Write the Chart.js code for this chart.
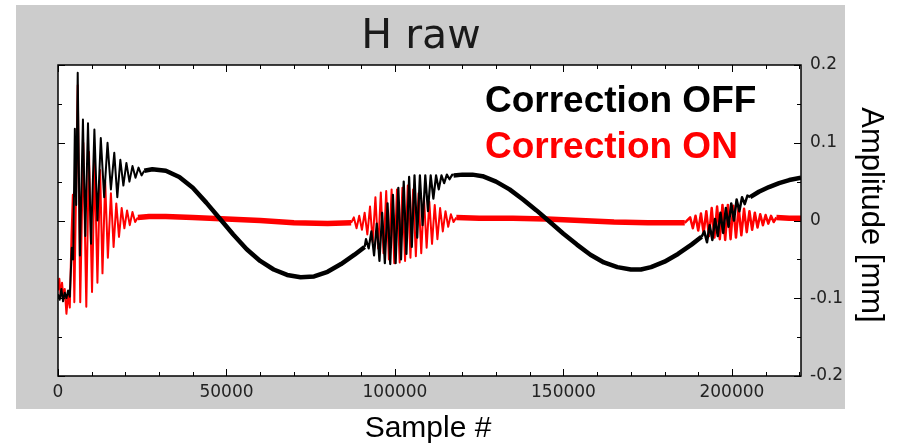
<!DOCTYPE html>
<html>
<head>
<meta charset="utf-8">
<script src="https://cdn.jsdelivr.net/npm/chart.js@4/dist/chart.umd.min.js"></script>
<style>
  html, body { margin: 0; padding: 0; background: #fff; }
</style>
</head>
<body>
<canvas id="c" width="898" height="445"></canvas>
<script>
// tick labels
const xTicks = [0, 50000, 100000, 150000, 200000];
const yTicks = [-0.2, -0.1, 0, 0.1, 0.2];

// Correction OFF (black) - start transient
const offHeadS = [0, 500, 1000, 1500, 2000, 2500, 3000, 3500, 4100, 4500, 5000, 5400, 5850, 6500, 7400, 8100, 8900, 9800, 10800, 11700, 12700, 13700, 14700, 15700, 16700, 17600, 18500, 19400, 20300, 21200, 22100, 23000, 23900, 24800, 25600];
const offHeadV = [-0.095, -0.102, -0.088, -0.104, -0.093, -0.1, -0.09, -0.098, -0.035, -0.05, 0.118, 0.02, 0.19, -0.045, 0.13, -0.02, 0.125, -0.03, 0.117, 0.0, 0.106, 0.03, 0.1, 0.04, 0.087, 0.03, 0.078, 0.045, 0.074, 0.05, 0.07, 0.055, 0.068, 0.058, 0.064];
// smooth parts
const offTrendAS = [25600, 28000, 32000, 36000, 40000, 44000, 48500, 52000, 56000, 60000, 64000, 68000, 72000, 76000, 80000, 84000, 88000, 91000];
const offTrendAV = [0.064, 0.066, 0.064, 0.056, 0.042, 0.023, 0.0, -0.018, -0.037, -0.052, -0.063, -0.07, -0.073, -0.072, -0.066, -0.056, -0.044, -0.034];
const offMidS = [91000, 91400, 92200, 93000, 93800, 94600, 95400, 96200, 97000, 97800, 98600, 99400, 100200, 101000, 101800, 102600, 103400, 104200, 105000, 105800, 106600, 107400, 108200, 109000, 109800, 110600, 111400, 112200, 113000, 113800, 114600, 115400, 116200, 117000, 117400];
const offMidV = [-0.034, -0.024, -0.036, -0.014, -0.045, -0.004, -0.052, 0.01, -0.055, 0.022, -0.056, 0.033, -0.055, 0.042, -0.05, 0.05, -0.043, 0.056, -0.034, 0.058, -0.022, 0.058, -0.006, 0.058, 0.012, 0.058, 0.028, 0.058, 0.04, 0.058, 0.048, 0.059, 0.053, 0.059, 0.058];
const offTrendBS = [117400, 120000, 123000, 126000, 130000, 134000, 138000, 142000, 146000, 150000, 154000, 158000, 162000, 166000, 170000, 173000, 176000, 180000, 184000, 188000, 191000];
const offTrendBV = [0.058, 0.059, 0.059, 0.057, 0.05, 0.04, 0.027, 0.013, -0.002, -0.017, -0.031, -0.044, -0.054, -0.06, -0.063, -0.063, -0.06, -0.053, -0.043, -0.031, -0.021];
const offTailS = [191000, 191800, 192600, 193400, 194200, 195000, 195800, 196600, 197400, 198200, 199000, 199800, 200600, 201400, 202200, 203000, 203800, 204600, 205400];
const offTailV = [-0.021, -0.014, -0.028, -0.006, -0.025, 0.002, -0.02, 0.01, -0.016, 0.016, -0.008, 0.022, 0.0, 0.027, 0.012, 0.03, 0.021, 0.032, 0.03];
const offTrendCS = [205400, 208000, 211000, 214000, 217000, 220500];
const offTrendCV = [0.03, 0.037, 0.043, 0.048, 0.052, 0.055];

// Correction ON (red)
const onHeadS = [0, 400, 800, 1200, 1600, 2000, 2500, 3000, 3500, 4000, 4400, 4850, 5850, 6600, 7500, 8400, 9200, 10100, 10900, 11700, 12500, 13200, 14000, 14800, 15700, 16500, 17300, 18100, 18900, 19700, 20500, 21300, 22100, 22900, 23700];
const onHeadV = [-0.09, -0.075, -0.098, -0.08, -0.1, -0.088, -0.12, -0.095, -0.112, -0.02, 0.033, -0.105, 0.174, -0.105, 0.1, -0.111, 0.088, -0.092, 0.075, -0.08, 0.065, -0.068, 0.05, -0.048, 0.035, -0.034, 0.022, -0.021, 0.016, -0.01, 0.013, -0.006, 0.011, -0.002, 0.004];
const onFlatAS = [23700, 27000, 32000, 40000, 50000, 60000, 70000, 80000, 87000];
const onFlatAV = [0.004, 0.005, 0.005, 0.004, 0.002, 0.0, -0.003, -0.004, -0.003];
const onMidS = [87000, 87800, 88600, 89400, 90200, 91000, 91800, 92600, 93400, 94200, 95000, 95800, 96600, 97400, 98200, 99000, 99800, 100600, 101400, 102200, 103000, 103800, 104600, 105400, 106200, 107000, 107800, 108600, 109400, 110200, 111000, 111800, 112600, 113400, 114200, 115000, 115800, 116600, 117400, 118200];
const onMidV = [-0.003, 0.004, -0.01, 0.006, -0.012, 0.01, -0.018, 0.018, -0.028, 0.03, -0.036, 0.036, -0.042, 0.038, -0.05, 0.04, -0.055, 0.04, -0.054, 0.042, -0.052, 0.045, -0.048, 0.04, -0.046, 0.035, -0.042, 0.03, -0.035, 0.024, -0.03, 0.02, -0.024, 0.016, -0.014, 0.012, -0.008, 0.008, -0.002, 0.004];
const onFlatBS = [118200, 125000, 135000, 145000, 155000, 165000, 175000, 186000];
const onFlatBV = [0.004, 0.003, 0.003, 0.002, 0.0, -0.002, -0.003, -0.003];
const onTailS = [186000, 187600, 188400, 189200, 190000, 190800, 191600, 192400, 193200, 194000, 194800, 195600, 196400, 197200, 198000, 198800, 199600, 200400, 201200, 202000, 202800, 203600, 204400, 205200, 206000, 206800, 207600, 208400, 209200, 210000, 210800, 211600, 212400, 213200];
const onTailV = [-0.003, 0.004, -0.01, 0.006, -0.013, 0.009, -0.016, 0.012, -0.02, 0.016, -0.022, 0.018, -0.024, 0.02, -0.025, 0.02, -0.024, 0.019, -0.022, 0.017, -0.019, 0.015, -0.015, 0.012, -0.012, 0.01, -0.009, 0.008, -0.006, 0.007, -0.004, 0.006, -0.002, 0.004];
const onFlatCS = [213200, 217000, 220500];
const onFlatCV = [0.004, 0.003, 0.003];

function pts(s, v) {
    return s.map((x, i) => ({ x: x, y: v[i] }));
}
function line(s, v, color, width) {
    return {
        data: pts(s, v),
        borderColor: color,
        borderWidth: width,
        pointRadius: 0,
        tension: 0,
        fill: false,
        borderJoinStyle: "round"
    };
}

const BLACK = "#000000";
const RED = "#ff0000";

const frame = {
    id: "frame",
    beforeDraw(chart) {
        const { ctx, chartArea: a } = chart;
        ctx.save();
        ctx.fillStyle = "#ffffff";
        ctx.fillRect(0, 0, chart.width, chart.height);
        ctx.fillStyle = "#cccccc";
        ctx.fillRect(16, 5, 829, 404);
        ctx.fillStyle = "#ffffff";
        ctx.fillRect(a.left, a.top, a.right - a.left, a.bottom - a.top);
        ctx.restore();
    },
    afterDraw(chart) {
        const { ctx, chartArea: a } = chart;
        const xs = chart.scales.x;
        const ys = chart.scales.y;
        ctx.save();
        ctx.strokeStyle = "#000";
        ctx.lineWidth = 1;
        ctx.beginPath();
        for (let v = 0; v <= 220000; v += 10000) {
            const px = Math.round(xs.getPixelForValue(v)) + 0.5;
            const len = v % 50000 === 0 ? 7 : 4;
            ctx.moveTo(px, a.bottom);
            ctx.lineTo(px, a.bottom - len);
            ctx.moveTo(px, a.top);
            ctx.lineTo(px, a.top + len);
        }
        for (let k = -4; k <= 4; k++) {
            const py = Math.round(ys.getPixelForValue(k * 0.05)) + 0.5;
            const len = k % 2 === 0 ? 7 : 4;
            ctx.moveTo(a.left, py);
            ctx.lineTo(a.left + len, py);
            ctx.moveTo(a.right, py);
            ctx.lineTo(a.right - len, py);
        }
        ctx.stroke();
        ctx.lineWidth = 1.5;
        ctx.strokeRect(a.left, a.top, a.right - a.left, a.bottom - a.top);

        // title
        ctx.fillStyle = "#1a1a1a";
        ctx.font = '41px "DejaVu Sans"';
        ctx.textAlign = "center";
        ctx.textBaseline = "alphabetic";
        ctx.fillText("H raw", 421, 48);

        // legend texts
        ctx.textAlign = "left";
        ctx.font = 'bold 37px "Liberation Sans"';
        ctx.fillStyle = BLACK;
        ctx.fillText("Correction OFF", 485, 112);
        ctx.fillStyle = RED;
        ctx.fillText("Correction ON", 485, 158);

        // axis titles
        ctx.fillStyle = "#000";
        ctx.textAlign = "center";
        ctx.font = '30px "Liberation Sans"';
        ctx.fillText("Sample #", 428, 437);
        ctx.translate(862, 215);
        ctx.rotate(Math.PI / 2);
        ctx.font = '31px "Liberation Sans"';
        ctx.fillText("Amplitude [mm]", 0, 0);
        ctx.restore();
    }
};

const datasets = [
    line(offHeadS, offHeadV, BLACK, 2),
    line(offTrendAS, offTrendAV, BLACK, 4.5),
    line(offMidS, offMidV, BLACK, 2.2),
    line(offTrendBS, offTrendBV, BLACK, 4.5),
    line(offTailS, offTailV, BLACK, 2.5),
    line(offTrendCS, offTrendCV, BLACK, 4.5),
    line(onHeadS, onHeadV, RED, 2),
    line(onFlatAS, onFlatAV, RED, 5.5),
    line(onMidS, onMidV, RED, 2),
    line(onFlatBS, onFlatBV, RED, 5.5),
    line(onTailS, onTailV, RED, 2.5),
    line(onFlatCS, onFlatCV, RED, 5.5)
];

new Chart(document.getElementById("c"), {
    type: "line",
    data: { datasets: datasets },
    options: {
        responsive: false,
        animation: false,
        layout: { padding: { left: 58, top: 65, right: 0, bottom: 0 } },
        plugins: {
            legend: { display: false },
            tooltip: { enabled: false },
            title: { display: false }
        },
        scales: {
            x: {
                type: "linear",
                position: "bottom",
                min: 0,
                max: 220500,
                grid: { display: false, drawTicks: false },
                border: { display: false },
                afterBuildTicks: (scale) => {
                    scale.ticks = xTicks.map((v) => ({ value: v }));
                },
                afterFit: (scale) => {
                    scale.height = 69;
                },
                ticks: {
                    padding: 6,
                    maxRotation: 0,
                    color: "#222",
                    font: { family: "DejaVu Sans", size: 17 },
                    callback: (v) => String(v)
                }
            },
            y: {
                type: "linear",
                position: "right",
                min: -0.2,
                max: 0.2,
                grid: { display: false, drawTicks: false },
                border: { display: false },
                afterBuildTicks: (scale) => {
                    scale.ticks = yTicks.map((v) => ({ value: v }));
                },
                afterFit: (scale) => {
                    scale.width = 97;
                },
                ticks: {
                    padding: 9,
                    color: "#222",
                    font: { family: "DejaVu Sans", size: 17 },
                    callback: (v) => (Math.abs(v) < 1e-9 ? "0" : v.toFixed(1))
                }
            }
        }
    },
    plugins: [frame]
});
</script>
</body>
</html>
